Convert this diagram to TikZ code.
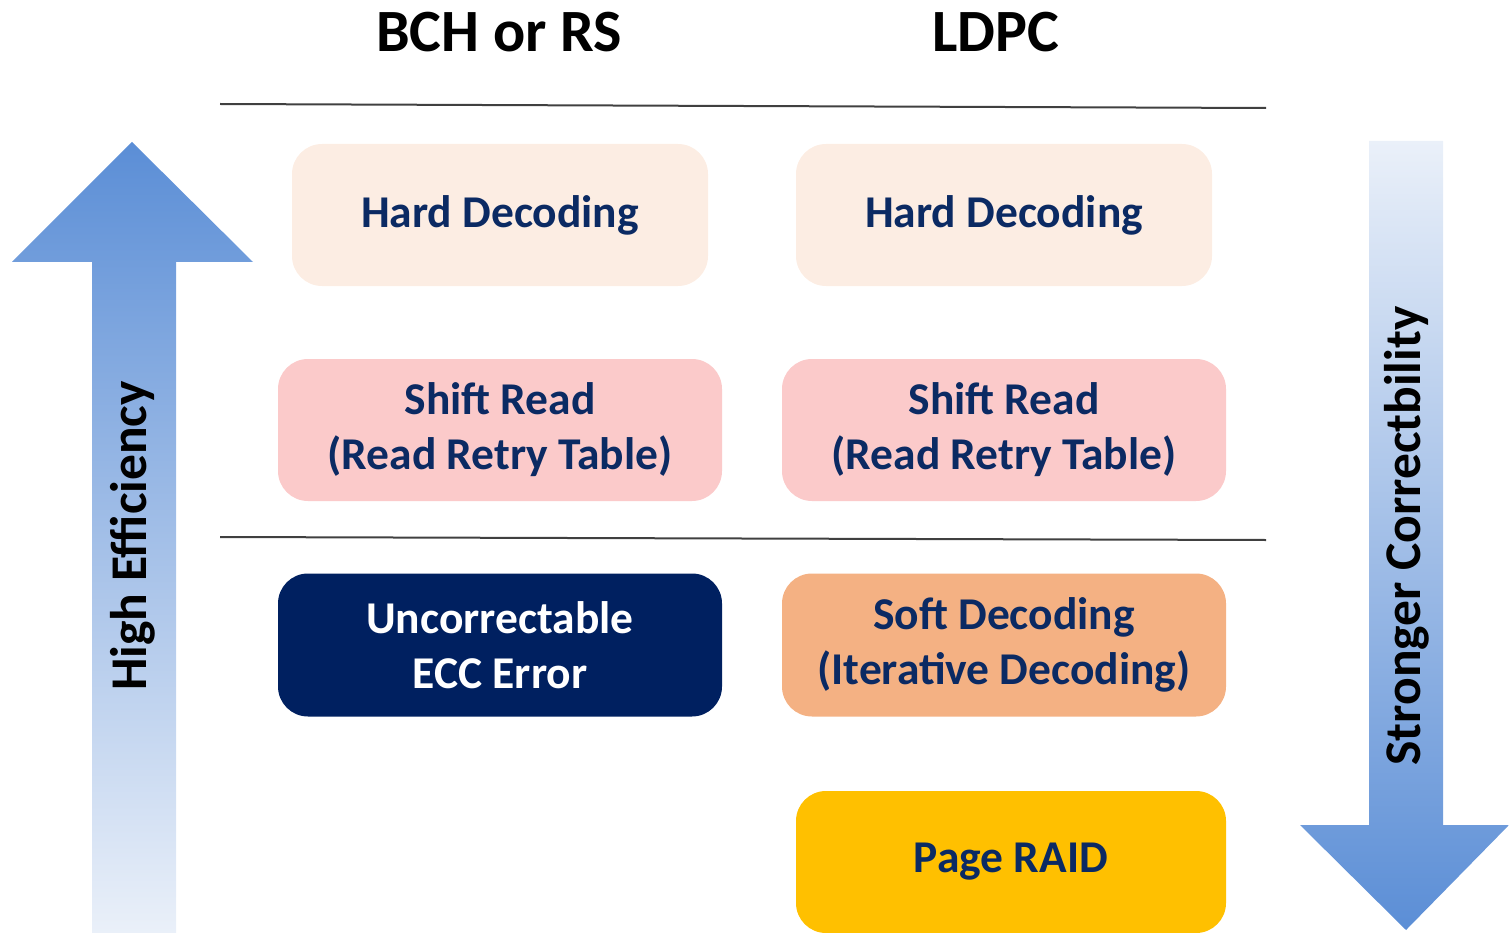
\documentclass[tikz,border=0pt]{standalone}
\usepackage{fontspec}
\setmainfont{Carlito}
\definecolor{navy}{HTML}{0B2A63}
\definecolor{boxnavy}{HTML}{002060}
\definecolor{peach}{HTML}{FCEDE3}
\definecolor{pinkbox}{HTML}{FBCACA}
\definecolor{orangebox}{HTML}{F4B183}
\definecolor{goldbox}{HTML}{FFC000}
\definecolor{arrowblue}{HTML}{5B8ED6}
\definecolor{arrowpale}{HTML}{EAF0F9}
\definecolor{rule}{HTML}{404040}
\begin{document}
\begin{tikzpicture}[x=1pt,y=-1pt,
  stage/.style={rounded corners=30pt, draw=none, align=center, text=navy,
    font=\fontsize{45.5}{55}\selectfont\bfseries, inner sep=0pt},
  header/.style={font=\fontsize{60}{70}\selectfont\bfseries, text=black},
  sidelabel/.style={font=\fontsize{51.5}{60}\selectfont\bfseries, text=black, rotate=90},
  rulestyle/.style={draw=rule, line width=2pt}]
\useasboundingbox (0,0) rectangle (1509,933);

% headers
\node[header] (h1) at (499,32) {BCH or RS};
\node[header] (h2) at (996,32) {LDPC};

% rules
\coordinate (r1a) at (220,104); \coordinate (r1b) at (1266,108);
\coordinate (r2a) at (220,537); \coordinate (r2b) at (1266,540);
\draw[rulestyle] (r1a) -- (r1b);
\draw[rulestyle] (r2a) -- (r2b);

% left arrow (up)
\shade[top color=arrowblue, bottom color=arrowpale]
  (132,142) -- (253,262) -- (176,262) -- (176,933) -- (92,933) -- (92,262) -- (12,262) -- cycle;
% right arrow (down)
\shade[top color=arrowpale, bottom color=arrowblue]
  (1369,141) -- (1443,141) -- (1443,825) -- (1509,825) -- (1406,930) -- (1300,825) -- (1369,825) -- cycle;

\node[sidelabel] (eff) at (133,536) {High Efficiency};
\node[sidelabel] (cor) at (1407,536) {Stronger Correctbility};

% boxes
\node[stage, fill=peach, minimum width=416pt, minimum height=142pt] (hdl) at (500,215) {Hard Decoding};
\node[stage, fill=peach, minimum width=416pt, minimum height=142pt] (hdr) at (1004,215) {Hard Decoding};
\node[stage, fill=pinkbox, minimum width=444pt, minimum height=142pt] (srl) at (500,430) {Shift Read\\(Read Retry Table)};
\node[stage, fill=pinkbox, minimum width=444pt, minimum height=142pt] (srr) at (1004,430) {Shift Read\\(Read Retry Table)};
\node[stage, fill=boxnavy, text=white, minimum width=444pt, minimum height=143pt] (uce) at (500,645) {Uncorrectable\\ECC Error};
\node[stage, fill=orangebox, minimum width=444pt, minimum height=143pt] (sd) at (1004,645) {Soft Decoding\\(Iterative Decoding)};
\node[stage, fill=goldbox, minimum width=430pt, minimum height=142pt] (raid) at (1011,862) {Page RAID};
\end{tikzpicture}
\end{document}
